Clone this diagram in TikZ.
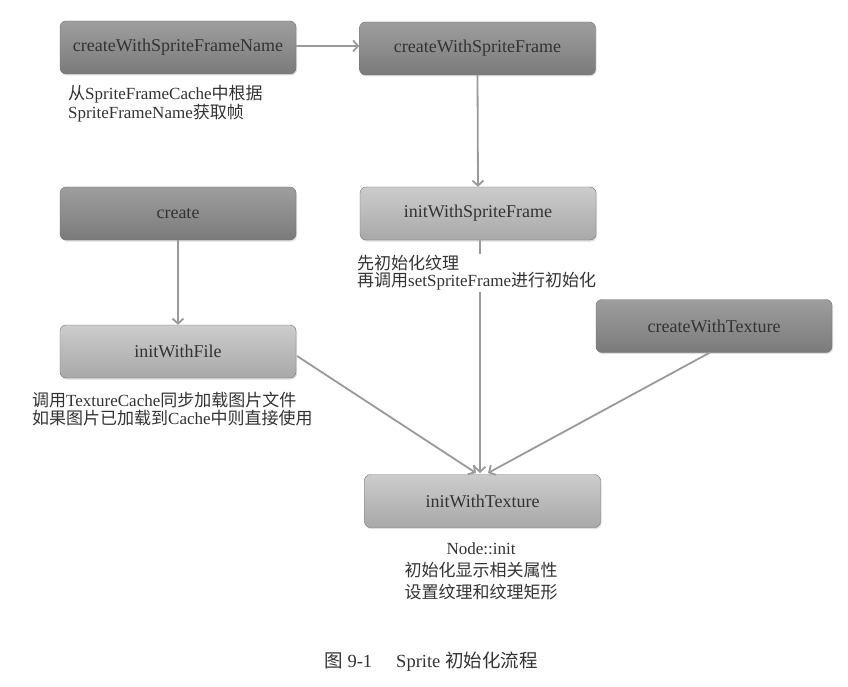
\documentclass[tikz,border=0pt]{standalone}
\usepackage{fontspec}
\setmainfont{Liberation Serif}
\newfontfamily\cjk{Noto Sans CJK SC}
\usetikzlibrary{shadows,arrows.meta}
\definecolor{txt}{HTML}{333333}
\definecolor{edge}{HTML}{9A9A9A}
\tikzset{
  box/.style={rounded corners=6pt, minimum width=236pt, minimum height=53pt,
    draw=black!55, line width=0.4pt, text=txt, font=\fontsize{18}{20}\selectfont,
    drop shadow={opacity=0.25, shadow xshift=1pt, shadow yshift=-1.5pt}},
  darkbox/.style={box, top color=black!38, bottom color=black!52},
  lightbox/.style={box, top color=black!20, bottom color=black!34},
  note/.style={text=txt, font=\fontsize{17}{17.5}\selectfont, align=left, inner sep=1pt},
  conn/.style={draw=edge, line width=1.8pt, -{Straight Barb[length=5pt,width=11pt]}}
}
\begin{document}
\begin{tikzpicture}[x=1pt,y=-1pt]
\useasboundingbox (0,0) rectangle (848,687);
\fill[white] (0,0) rectangle (848,687);

\node[darkbox] (cwsfn) at (178,47.5) {createWithSpriteFrameName};
\node[darkbox] (cwsf) at (477.5,48.5) {createWithSpriteFrame};
\node[lightbox] (iwsf) at (478,213.5) {initWithSpriteFrame};
\node[darkbox] (create) at (178,213.5) {create};
\node[lightbox] (iwf) at (178,351.5) {initWithFile};
\node[darkbox] (cwt) at (714,326) {createWithTexture};
\node[lightbox] (iwt) at (482.5,501) {initWithTexture};

\coordinate (iwfout) at (297,356);
\coordinate (cwtout) at (710,352.5);
\coordinate (in1) at (476,473);
\coordinate (in2) at (480,473);
\coordinate (in3) at (488,473);

\draw[conn] (cwsfn.east |- 0,46) -- (cwsf.west |- 0,46);
\draw[conn] (cwsf.south) -- (iwsf.north);
\draw[conn] (create.south) -- (iwf.north);
\draw[conn] (iwsf.south -| in2) -- (in2);
\draw[conn] (iwfout) -- (in1);
\draw[conn] (cwtout) -- (in3);

\node[note, anchor=north west] (n1) at (67,84) {{\cjk 从}SpriteFrameCache{\cjk 中根据}\\SpriteFrameName{\cjk 获取帧}};
\node[note, anchor=north west, fill=white] (n2) at (356,254) {{\cjk 先初始化纹理}\\{\cjk 再调用}setSpriteFrame{\cjk 进行初始化}};
\node[note, anchor=north west] (n3) at (31,391) {{\cjk 调用}TextureCache{\cjk 同步加载图片文件}\\{\cjk 如果图片已加载到}Cache{\cjk 中则直接使用}};
\node[note, anchor=north, align=center, font=\fontsize{17}{22}\selectfont] (n4) at (481,541) {Node::init\\{\cjk 初始化显示相关属性}\\{\cjk 设置纹理和纹理矩形}};
\node[text=txt, font=\fontsize{18.5}{20}\selectfont] (cap) at (431,662) {{\cjk 图} 9-1\hspace{24pt}Sprite {\cjk 初始化流程}};
\end{tikzpicture}
\end{document}
